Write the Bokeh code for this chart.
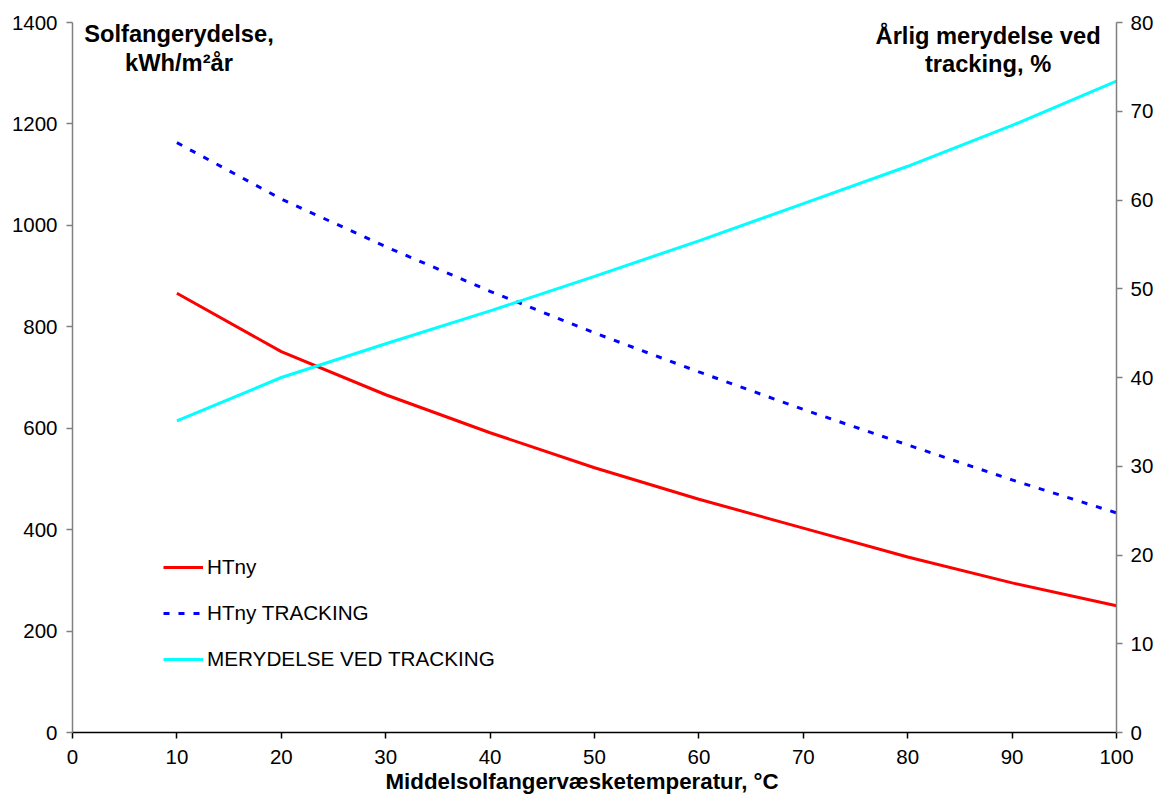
from bokeh.plotting import figure
from bokeh.models import Range1d, LinearAxis, Label, Legend, LegendItem, FixedTicker, Title
from bokeh.embed import file_html
from bokeh.resources import INLINE

# ---- data ----
temperature = [10, 20, 30, 40, 50, 60, 70, 80, 90, 100]
htny = [866, 751, 666, 591, 522, 460, 403, 346, 295, 250]
htny_tracking = [1163, 1052, 958, 870, 788, 711, 637, 567, 498, 433]
merydelse = [35.1, 40.0, 43.8, 47.5, 51.4, 55.4, 59.6, 63.8, 68.4, 73.4]

x_ticks = [0, 10, 20, 30, 40, 50, 60, 70, 80, 90, 100]
left_ticks = [0, 200, 400, 600, 800, 1000, 1200, 1400]
right_ticks = [0, 10, 20, 30, 40, 50, 60, 70, 80]

FONT = "Liberation Sans"

p = figure(width=1159, height=805, output_backend="svg", toolbar_location=None,
           x_range=Range1d(0, 100), y_range=Range1d(0, 1400),
           min_border_left=72, min_border_right=43, min_border_top=22, min_border_bottom=73)
p.outline_line_color = None
p.xgrid.visible = False
p.ygrid.visible = False
p.background_fill_color = "white"
p.border_fill_color = "white"

p.extra_y_ranges = {"right": Range1d(0, 80)}

r1 = p.line(temperature, htny, line_color="#ff0000", line_width=3)
r2 = p.line(temperature, htny_tracking, line_color="#0000ff", line_width=3, line_dash="6 9")
r3 = p.line(temperature, merydelse, line_color="#00ffff", line_width=3, y_range_name="right")

def style_axis(ax, color, standoff):
    ax.axis_line_color = color
    ax.axis_line_width = 1.5
    ax.major_tick_line_color = color
    ax.major_tick_line_width = 1.5
    ax.major_tick_out = 6
    ax.major_tick_in = 0
    ax.minor_tick_line_color = None
    ax.major_label_text_font = FONT
    ax.major_label_text_font_size = "20.5px"
    ax.major_label_text_color = "black"
    ax.major_label_standoff = standoff

xa = p.xaxis[0]
style_axis(xa, "black", 11)
xa.ticker = FixedTicker(ticks=x_ticks)

ya = p.yaxis[0]
style_axis(ya, "#808080", 9)
ya.ticker = FixedTicker(ticks=left_ticks)

ra = LinearAxis(y_range_name="right", ticker=FixedTicker(ticks=right_ticks))
style_axis(ra, "#808080", 8)
p.add_layout(ra, "right")

# x axis title (below the axis, placed slightly left of centre as in the reference)
xt = Title(text="Middelsolfangervæsketemperatur, °C", align="left", offset=313,
           text_font=FONT, text_font_size="22.3px", text_font_style="bold",
           text_color="black", standoff=0)
p.add_layout(xt, "below")

# y axis titles placed inside the plot area
def lab(x, y, text, size="23.7px"):
    p.add_layout(Label(x=x, y=y, text=text, text_align="center", text_baseline="middle",
                       text_font=FONT, text_font_size=size, text_font_style="bold",
                       text_color="black"))

lab(10.2, 1378, "Solfangerydelse,")
lab(10.2, 1321, "kWh/m²år")
lab(87.7, 1374, "Årlig merydelse ved")
lab(87.7, 1319, "tracking, %")

legend = Legend(items=[LegendItem(label="HTny", renderers=[r1]),
                       LegendItem(label="HTny TRACKING", renderers=[r2]),
                       LegendItem(label="MERYDELSE VED TRACKING", renderers=[r3])],
                location=(91, 61))
legend.background_fill_alpha = 0
legend.border_line_color = None
legend.label_text_font = FONT
legend.label_text_font_size = "20.7px"
legend.label_text_color = "black"
legend.glyph_width = 40
legend.glyph_height = 20
legend.label_height = 20
legend.spacing = 22
legend.padding = 0
legend.margin = 0
legend.label_standoff = 4
p.add_layout(legend, "center")

open("out.html", "w").write(file_html(p, INLINE))
